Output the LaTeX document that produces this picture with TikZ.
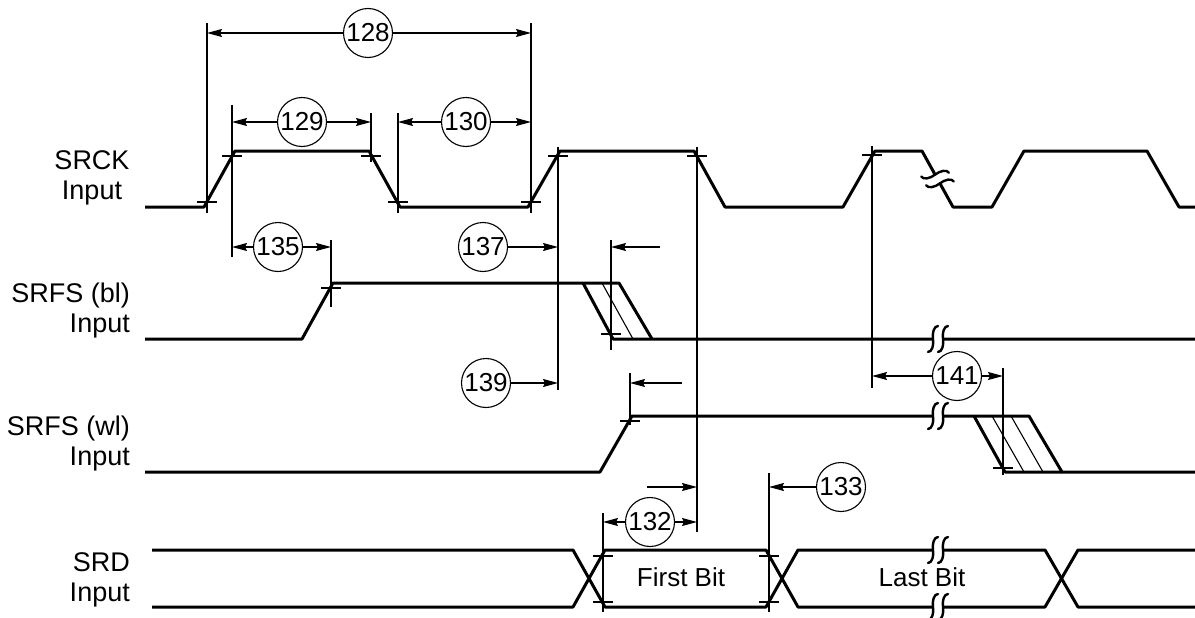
\documentclass[tikz,border=0pt]{standalone}
\usepackage{fontspec}
\setmainfont{Liberation Sans}
\usepackage{tikz}
\usetikzlibrary{arrows.meta}

\tikzset{
	brk/.pic={
		\fill[white] (-5,-4) rectangle (5,4);
		\draw[line width=2.4pt,line cap=round] (-10,13) .. controls (-6,13) and (-4,6) .. (-5,0) .. controls (-6,-6) and (-4,-13) .. (0,-13);
		\draw[line width=2.4pt,line cap=round] (0,13) .. controls (4,13) and (6,6) .. (5,0) .. controls (4,-6) and (6,-13) .. (10,-13);
	}
}

\begin{document}
\begin{tikzpicture}[x=1pt,y=-1pt,
	wave/.style={line width=3pt,line join=round},
	dim/.style={line width=1.1pt},
	dimarrow/.style={dim,-{Stealth[length=15pt,width=8pt,inset=2pt]}},
	num/.style={shape=circle,draw,line width=1.1pt,minimum size=49pt,inner sep=0pt,font=\fontsize{26}{28}\selectfont},
	sig/.style={inner sep=0pt,align=right,font=\fontsize{27}{30}\selectfont},
	bit/.style={inner sep=0pt,font=\fontsize{26}{28}\selectfont}]
	\useasboundingbox (0,0) rectangle (1195,618);

	\node[sig,align=center] (srck) at (92,178) {SRCK\\Input};
	\node[sig,anchor=east] (srfsbl) at (130,311) {SRFS (bl)\\Input};
	\node[sig,anchor=east] (srfswl) at (130,444) {SRFS (wl)\\Input};
	\node[sig,anchor=east] (srd) at (130,580) {SRD\\Input};

	\draw[wave] (145,207) -- (204,207) -- (235,151) -- (369,151) -- (400,207) -- (528,207) -- (560,151) -- (694,151) -- (725,207) -- (843,207) -- (875,151) -- (922,151) -- (953,207) -- (992,207) -- (1024,151) -- (1147,151) -- (1179,207) -- (1195,207);
	\draw[wave] (145,339) -- (302,339) -- (333,283) -- (619,283) -- (652,339);
	\draw[wave] (583,283) -- (613,339) -- (1195,339);
	\draw[dim] (602,283) -- (633,339);
	\draw[wave] (145,472) -- (600,472) -- (632,416) -- (1029,416) -- (1062,472) -- (1195,472);
	\draw[wave] (974,416) -- (1005,472) -- (1062,472);
	\draw[dim] (992,416) -- (1024,472);
	\draw[dim] (1011,416) -- (1043,472);
	\draw[wave] (152,550) -- (573,550) -- (605,607) -- (766,607) -- (798,550) -- (1045,550) -- (1078,607) -- (1195,607);
	\draw[wave] (152,607) -- (573,607) -- (605,550) -- (766,550) -- (798,607) -- (1045,607) -- (1078,550) -- (1195,550);

	\pic[rotate=-61] at (937.5,179) {brk};
	\pic at (938,339) {brk};
	\pic at (938,416) {brk};
	\pic at (938,550) {brk};
	\pic at (938,607) {brk};

	\node[bit] (first) at (681,577) {First Bit};
	\node[bit] (last) at (922,577) {Last Bit};

	\coordinate (ckr1) at (207,23);
	\coordinate (ckr1b) at (207,213);
	\coordinate (ckr1t) at (232,105);
	\coordinate (ckr1tb) at (232,257);
	\coordinate (ckf1) at (371,113);
	\coordinate (ckf1b) at (371,162);
	\coordinate (ckf1l) at (398,113);
	\coordinate (ckf1lb) at (398,213);
	\coordinate (ckr2) at (531,23);
	\coordinate (ckr2b) at (531,213);
	\coordinate (ckr2t) at (558,147);
	\coordinate (ckr2tb) at (558,390);
	\coordinate (ckf2) at (697,147);
	\coordinate (ckf2b) at (697,532);
	\coordinate (ckr3) at (872,146);
	\coordinate (ckr3b) at (872,388);
	\coordinate (blr) at (331,240);
	\coordinate (blrb) at (331,307);
	\coordinate (blf) at (611,240);
	\coordinate (blfb) at (611,350);
	\coordinate (wlr) at (630,373);
	\coordinate (wlrb) at (630,425);
	\coordinate (wlf) at (1003,368);
	\coordinate (wlfb) at (1003,475);
	\coordinate (rda) at (603,513);
	\coordinate (rdab) at (603,612);
	\coordinate (rdb) at (769,473);
	\coordinate (rdbb) at (769,612);

	\draw[dim] (ckr1) -- (ckr1b);
	\draw[dim] (ckr1t) -- (ckr1tb);
	\draw[dim] (ckf1) -- (ckf1b);
	\draw[dim] (ckf1l) -- (ckf1lb);
	\draw[dim] (ckr2) -- (ckr2b);
	\draw[dim] (ckr2t) -- (ckr2tb);
	\draw[dim] (ckf2) -- (ckf2b);
	\draw[dim] (ckr3) -- (ckr3b);
	\draw[dim] (blr) -- (blrb);
	\draw[dim] (blf) -- (blfb);
	\draw[dim] (wlr) -- (wlrb);
	\draw[dim] (wlf) -- (wlfb);
	\draw[dim] (rda) -- (rdab);
	\draw[dim] (rdb) -- (rdbb);

	\draw[dim] (197,202) -- (217,202);
	\draw[dim] (222,156) -- (242,156);
	\draw[dim] (361,156) -- (381,156);
	\draw[dim] (388,202) -- (408,202);
	\draw[dim] (521,202) -- (541,202);
	\draw[dim] (548,156) -- (568,156);
	\draw[dim] (687,156) -- (707,156);
	\draw[dim] (862,155) -- (882,155);
	\draw[dim] (321,288) -- (341,288);
	\draw[dim] (601,334) -- (621,334);
	\draw[dim] (620,421) -- (640,421);
	\draw[dim] (993,468) -- (1013,468);
	\draw[dim] (593,556) -- (613,556);
	\draw[dim] (593,602) -- (613,602);
	\draw[dim] (759,556) -- (779,556);
	\draw[dim] (759,602) -- (779,602);

	\node[num] (n128) at (368,33) {128};
	\node[num] (n129) at (302,122) {129};
	\node[num] (n130) at (466,122) {130};
	\node[num] (n135) at (278,247) {135};
	\node[num] (n137) at (483,247) {137};
	\node[num] (n139) at (486,383) {139};
	\node[num] (n141) at (957,376) {141};
	\node[num] (n132) at (650,522) {132};
	\node[num] (n133) at (841,487) {133};

	\coordinate (t137) at (660,247);
	\coordinate (t139) at (682,383);
	\coordinate (t132) at (647,487);

	\draw[dimarrow] (n128) -- (n128 -| ckr1);
	\draw[dimarrow] (n128) -- (n128 -| ckr2);
	\draw[dimarrow] (n129) -- (n129 -| ckr1t);
	\draw[dimarrow] (n129) -- (n129 -| ckf1);
	\draw[dimarrow] (n130) -- (n130 -| ckf1l);
	\draw[dimarrow] (n130) -- (n130 -| ckr2);
	\draw[dimarrow] (n135) -- (n135 -| ckr1t);
	\draw[dimarrow] (n135) -- (n135 -| blr);
	\draw[dimarrow] (n137) -- (n137 -| ckr2t);
	\draw[dimarrow] (t137) -- (t137 -| blf);
	\draw[dimarrow] (n139) -- (n139 -| ckr2t);
	\draw[dimarrow] (t139) -- (t139 -| wlr);
	\draw[dimarrow] (n141) -- (n141 -| ckr3);
	\draw[dimarrow] (n141) -- (n141 -| wlf);
	\draw[dimarrow] (t132) -- (t132 -| ckf2);
	\draw[dimarrow] (n133) -- (n133 -| rdb);
	\draw[dimarrow] (n132) -- (n132 -| rda);
	\draw[dimarrow] (n132) -- (n132 -| ckf2);
\end{tikzpicture}
\end{document}
